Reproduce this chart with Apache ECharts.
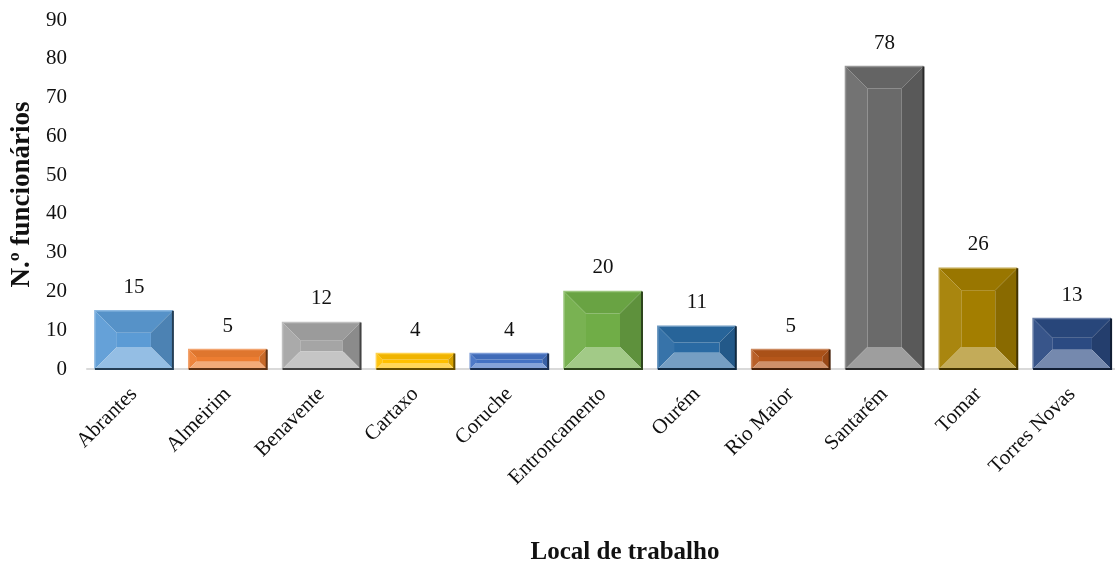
<!DOCTYPE html>
<html>
<head>
<meta charset="utf-8">
<script src="https://cdn.jsdelivr.net/npm/echarts@6/dist/echarts.min.js"></script>
<style>
  html, body { margin: 0; padding: 0; background: #fff; }
  #chart { width: 1115px; height: 561px; }
</style>
</head>
<body>
<div id="chart"></div>
<script>
const categories = ['Abrantes', 'Almeirim', 'Benavente', 'Cartaxo', 'Coruche', 'Entroncamento',
    'Ourém', 'Rio Maior', 'Santarém', 'Tomar', 'Torres Novas'];
const values = [15, 5, 12, 4, 4, 20, 11, 5, 78, 26, 13];
const barColors = ['#5b9bd5', '#ed7d31', '#a5a5a5', '#ffc000', '#4472c4', '#70ad47',
    '#2a6aa3', '#b5561a', '#6a6a6a', '#a37e00', '#2b4a82'];
const yMin = 0, yMax = 90, yStep = 10;

const font = '"Liberation Serif", "DejaVu Serif", serif';

// mix a hex colour toward white (t>0) or black (t<0)
function shade(hex, t) {
    const n = parseInt(hex.slice(1), 16);
    let r = n >> 16, g = (n >> 8) & 255, b = n & 255;
    const target = t > 0 ? 255 : 0, k = Math.abs(t);
    r = Math.round(r + (target - r) * k);
    g = Math.round(g + (target - g) * k);
    b = Math.round(b + (target - b) * k);
    return 'rgb(' + r + ',' + g + ',' + b + ')';
}

const BAR_W = 78;

function renderBevelBar(params, api) {
    const idx = api.value(0);
    const val = api.value(1);
    const top = api.coord([idx, val]);
    const base = api.coord([idx, 0]);
    const c = barColors[params.dataIndex];
    const x0 = top[0] - BAR_W / 2, x1 = top[0] + BAR_W / 2;
    const y0 = top[1], y1 = base[1];
    const h = y1 - y0;
    const b = Math.min(22, h * 0.38, BAR_W / 2);
    const ix0 = x0 + b, ix1 = x1 - b, iy0 = y0 + b, iy1 = y1 - b;
    const poly = (pts, fill) => ({ type: 'polygon', shape: { points: pts }, style: { fill: fill } });
    return {
        type: 'group',
        children: [
            { type: 'rect', shape: { x: ix0, y: iy0, width: ix1 - ix0, height: Math.max(0, iy1 - iy0) },
              style: { fill: c } },
            poly([[x0, y0], [x1, y0], [ix1, iy0], [ix0, iy0]], shade(c, -0.06)),
            poly([[x0, y0], [ix0, iy0], [ix0, iy1], [x0, y1]], shade(c, 0.06)),
            poly([[x1, y0], [ix1, iy0], [ix1, iy1], [x1, y1]], shade(c, -0.16)),
            poly([[x0, y1], [ix0, iy1], [ix1, iy1], [x1, y1]], shade(c, 0.35)),
            { type: 'polyline', shape: { points: [[x0, y1], [x0, y0], [x1, y0]] },
              style: { fill: null, stroke: shade(c, 0.3), lineWidth: 1.5 } },
            { type: 'polyline', shape: { points: [[x1, y0], [x1, y1], [x0, y1]] },
              style: { fill: null, stroke: shade(c, -0.6), lineWidth: 2 } }
        ]
    };
}

const chart = echarts.init(document.getElementById('chart'), null, { renderer: 'canvas' });
chart.setOption({
    animation: false,
    backgroundColor: '#fff',
    title: {
        text: 'Local de trabalho',
        left: 620,
        top: 535,
        textAlign: 'center',
        textStyle: { fontFamily: font, fontSize: 25, fontWeight: 'bold', color: '#111' }
    },
    grid: { left: 87, right: -4, top: 20, bottom: 192, outerBoundsMode: 'none' },
    xAxis: {
        type: 'category',
        data: categories,
        axisLine: { lineStyle: { color: '#d9d9d9', width: 2 } },
        axisTick: { show: false },
        axisLabel: {
            rotate: 45,
            margin: 22,
            interval: 0,
            fontFamily: font,
            fontSize: 21,
            color: '#111'
        }
    },
    yAxis: {
        type: 'value',
        min: yMin,
        max: yMax,
        interval: yStep,
        name: 'N.º funcionários',
        nameLocation: 'middle',
        nameGap: 43,
        nameTextStyle: { fontFamily: font, fontSize: 27, fontWeight: 'bold', color: '#111' },
        axisLine: { show: false },
        axisTick: { show: false },
        splitLine: { show: false },
        axisLabel: { fontFamily: font, fontSize: 21, color: '#111', margin: 20 }
    },
    series: [
        {
            type: 'custom',
            renderItem: renderBevelBar,
            encode: { x: 0, y: 1 },
            data: values.map((v, i) => [i, v]),
            z: 3
        },
        {
            type: 'bar',
            barWidth: BAR_W,
            data: values,
            itemStyle: { color: 'rgba(0,0,0,0)' },
            label: {
                show: true,
                position: 'top',
                distance: 13,
                fontFamily: font,
                fontSize: 21,
                color: '#111'
            },
            z: 4
        }
    ]
});
</script>
</body>
</html>
